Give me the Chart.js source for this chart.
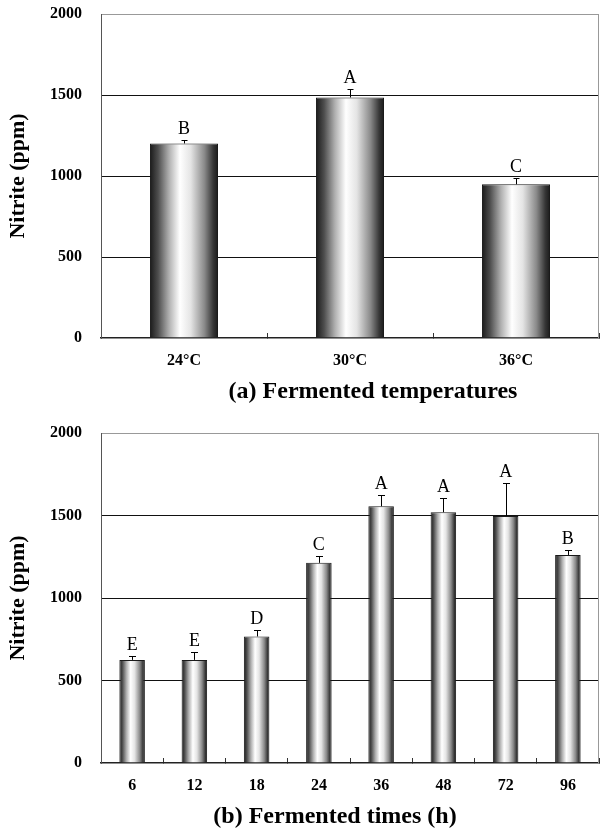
<!DOCTYPE html>
<html>
<head>
<meta charset="utf-8">
<script src="https://cdn.jsdelivr.net/npm/chart.js@4/dist/chart.umd.min.js"></script>
<style>
  html, body { margin: 0; padding: 0; background: #fff; }
  canvas { display: block; }
</style>
</head>
<body>
<canvas id="c1" width="609" height="420"></canvas>
<canvas id="c2" width="609" height="410"></canvas>
<script>
// ---- data ----
const tempLabels = ['24\u00B0C', '30\u00B0C', '36\u00B0C'];
const tempValues = [1201, 1485, 949];
const tempErrors = [24, 49, 36];
const tempLetters = ['B', 'A', 'C'];

const timeLabels = ['6', '12', '18', '24', '36', '48', '72', '96'];
const timeValues = [625, 625, 767, 1213, 1556, 1520, 1497, 1261];
const timeErrors = [24, 49, 38, 42, 67, 84, 198, 31];
const timeLetters = ['E', 'E', 'D', 'C', 'A', 'A', 'A', 'B'];

const yTicks = [0, 500, 1000, 1500, 2000];

const SERIF = '"Liberation Serif", "Times New Roman", serif';
const BAR_PCT = 0.41;

function barGradient(ctx) {
  const chart = ctx.chart;
  const xs = chart.scales && chart.scales.x;
  if (!xs || ctx.type !== 'data' || !xs.width) return '#999';
  const n = chart.data.labels.length;
  const cx = xs.getPixelForValue(ctx.dataIndex);
  const w = (xs.width / n) * BAR_PCT;
  const g = chart.ctx.createLinearGradient(cx - w / 2, 0, cx + w / 2, 0);
  g.addColorStop(0.00, '#1a1a1a');
  g.addColorStop(0.12, '#4e4e4e');
  g.addColorStop(0.28, '#b0b0b0');
  g.addColorStop(0.44, '#ffffff');
  g.addColorStop(0.60, '#e4e4e4');
  g.addColorStop(0.80, '#8a8a8a');
  g.addColorStop(0.93, '#363636');
  g.addColorStop(1.00, '#1a1a1a');
  return g;
}

const errPlugin = {
  id: 'errbars',
  afterDatasetsDraw(chart, args, opts) {
    const ctx = chart.ctx;
    const y = chart.scales.y;
    const meta = chart.getDatasetMeta(0);
    const vals = chart.data.datasets[0].data;
    ctx.save();
    ctx.strokeStyle = '#000';
    ctx.fillStyle = '#000';
    ctx.lineWidth = 1;
    meta.data.forEach((bar, i) => {
      const v = vals[i];
      const yBar = y.getPixelForValue(v);
      const yTop = Math.round(y.getPixelForValue(v + opts.errors[i]));
      const x = Math.round(bar.x) + 0.5;
      ctx.beginPath();
      ctx.moveTo(x, yBar);
      ctx.lineTo(x, yTop);
      ctx.moveTo(x - opts.cap, yTop + 0.5);
      ctx.lineTo(x + opts.cap, yTop + 0.5);
      ctx.stroke();
      ctx.font = '18px ' + SERIF;
      ctx.textAlign = 'center';
      ctx.textBaseline = 'alphabetic';
      ctx.fillText(opts.letters[i], bar.x, yTop - 6);
    });
    ctx.restore();
  }
};

const framePlugin = {
  id: 'frame',
  afterDraw(chart, args, opts) {
    const ctx = chart.ctx;
    const a = chart.chartArea;
    ctx.save();
    ctx.strokeStyle = '#999';
    ctx.lineWidth = 1;
    ctx.beginPath();
    ctx.moveTo(Math.round(a.right) - 0.5, a.top);
    ctx.lineTo(Math.round(a.right) - 0.5, a.bottom);
    ctx.stroke();
    // caption
    ctx.fillStyle = '#000';
    ctx.font = 'bold 24px ' + SERIF;
    ctx.textAlign = 'center';
    ctx.textBaseline = 'middle';
    ctx.fillText(opts.caption, opts.cx, opts.cy);
    ctx.restore();
  }
};

function makeChart(id, labels, values, errors, letters, cfg) {
  return new Chart(document.getElementById(id), {
    type: 'bar',
    data: {
      labels: labels,
      datasets: [{
        data: values,
        backgroundColor: barGradient,
        borderColor: '#1a1a1a',
        borderWidth: 1,
        barPercentage: BAR_PCT,
        categoryPercentage: 1.0
      }]
    },
    plugins: [errPlugin, framePlugin],
    options: {
      responsive: false,
      animation: false,
      layout: { padding: { left: 0, right: 10, top: cfg.top, bottom: 0 } },
      plugins: {
        legend: { display: false },
        tooltip: { enabled: false },
        title: { display: false },
        errbars: { errors: errors, letters: letters, cap: cfg.cap },
        frame: { caption: cfg.caption, cx: cfg.cx, cy: cfg.cy }
      },
      scales: {
        x: {
          offset: true,
          afterFit: s => { s.height = cfg.xh; },
          grid: {
            offset: true,
            drawOnChartArea: false,
            drawTicks: true,
            tickLength: -5,
            color: '#333',
            lineWidth: 1
          },
          border: { display: true, color: '#222', width: 1.5 },
          ticks: {
            color: '#000',
            padding: 18,
            font: { family: SERIF, size: 16, weight: 'bold' }
          }
        },
        y: {
          min: 0,
          max: 2000,
          afterFit: s => { s.width = 101; s.paddingTop = 0; s.paddingBottom = 0; },
          afterBuildTicks: s => { s.ticks = yTicks.map(v => ({ value: v })); },
          grid: {
            drawTicks: false,
            lineWidth: 1,
            color: c => c.tick && c.tick.value === 2000 ? '#999' : (c.tick && c.tick.value === 0 ? 'rgba(0,0,0,0)' : '#111')
          },
          border: { display: true, color: '#555', width: 1 },
          ticks: {
            color: '#000',
            padding: 19,
            callback: v => String(v),
            font: { family: SERIF, size: 16, weight: 'bold' }
          },
          title: {
            display: true,
            text: 'Nitrite (ppm)',
            color: '#000',
            padding: { top: 5, bottom: 0 },
            font: { family: SERIF, size: 22, weight: 'bold' }
          }
        }
      }
    }
  });
}

makeChart('c1', tempLabels, tempValues, tempErrors, tempLetters,
  { top: 14, xh: 82, cap: 3, caption: '(a) Fermented temperatures', cx: 373, cy: 392 });
makeChart('c2', timeLabels, timeValues, timeErrors, timeLetters,
  { top: 13, xh: 67, cap: 3.5, caption: '(b) Fermented times (h)', cx: 335, cy: 397 });
</script>
</body>
</html>
